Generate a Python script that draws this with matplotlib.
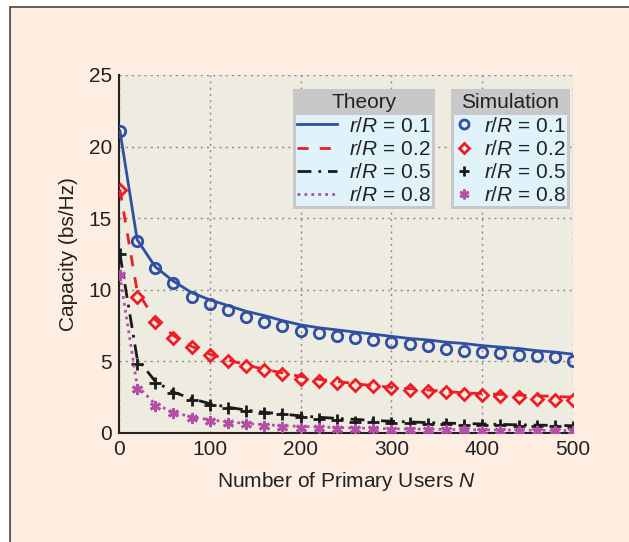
import matplotlib
matplotlib.use("Agg")
import matplotlib.pyplot as plt
from matplotlib.lines import Line2D
from matplotlib.patches import Rectangle

plt.rcParams['font.family'] = ['Liberation Sans', 'DejaVu Sans']
plt.rcParams['mathtext.fontset'] = 'custom'
plt.rcParams['mathtext.rm'] = 'Liberation Sans'
plt.rcParams['mathtext.it'] = 'Liberation Sans:italic'

# number of primary users
N = [1, 20, 40, 60, 80, 100, 120, 140, 160, 180, 200, 220, 240, 260,
     280, 300, 320, 340, 360, 380, 400, 420, 440, 460, 480, 500]

ratios = ["0.1", "0.2", "0.5", "0.8"]

theory_01 = [21.1, 13.5, 11.6, 10.6, 9.8, 9.3, 8.9, 8.5, 8.2, 7.85, 7.55, 7.35, 7.2,
             7.05, 6.9, 6.75, 6.6, 6.5, 6.35, 6.25, 6.1, 6.0, 5.9, 5.75, 5.65, 5.5]
theory_02 = [17.0, 9.9, 7.9, 6.8, 6.05, 5.5, 5.1, 4.75, 4.45, 4.2, 3.95, 3.75, 3.6,
             3.45, 3.3, 3.2, 3.1, 3.0, 2.9, 2.8, 2.75, 2.7, 2.65, 2.6, 2.55, 2.5]
theory_05 = [12.5, 5.2, 3.6, 2.85, 2.4, 2.05, 1.8, 1.6, 1.45, 1.32, 1.2, 1.1, 1.02,
             0.95, 0.88, 0.82, 0.77, 0.73, 0.69, 0.66, 0.63, 0.6, 0.57, 0.55, 0.53, 0.51]
theory_08 = [11.0, 3.3, 2.0, 1.45, 1.12, 0.92, 0.78, 0.67, 0.58, 0.51, 0.46, 0.42, 0.38,
             0.35, 0.32, 0.3, 0.28, 0.26, 0.25, 0.23, 0.22, 0.21, 0.2, 0.19, 0.18, 0.17]

sim_01 = [21.1, 13.4, 11.5, 10.5, 9.5, 9.0, 8.6, 8.1, 7.75, 7.5, 7.15, 7.0, 6.8,
          6.6, 6.5, 6.35, 6.2, 6.1, 5.9, 5.75, 5.65, 5.6, 5.45, 5.4, 5.3, 5.0]
sim_02 = [17.0, 9.5, 7.75, 6.6, 6.0, 5.45, 5.0, 4.7, 4.4, 4.15, 3.8, 3.65, 3.5,
          3.35, 3.3, 3.12, 3.0, 2.95, 2.85, 2.7, 2.65, 2.6, 2.5, 2.4, 2.3, 2.3]
sim_05 = [12.5, 4.85, 3.5, 2.8, 2.3, 1.95, 1.72, 1.55, 1.38, 1.3, 1.14, 1.0, 0.92,
          0.8, 0.77, 0.72, 0.67, 0.63, 0.6, 0.58, 0.56, 0.54, 0.52, 0.5, 0.48, 0.45]
sim_08 = [11.0, 3.1, 1.9, 1.37, 1.02, 0.86, 0.72, 0.6, 0.5, 0.44, 0.37, 0.33, 0.3,
          0.27, 0.25, 0.23, 0.21, 0.2, 0.19, 0.18, 0.17, 0.16, 0.15, 0.14, 0.13, 0.12]

theory = [theory_01, theory_02, theory_05, theory_08]
sim = [sim_01, sim_02, sim_05, sim_08]

colors = ["#2f4fa3", "#ee1c24", "#1a1a1a", "#b34fa6"]
styles = ["-", (0, (4, 4)), (0, (5, 2.5, 1, 2.5)), (0, (1, 1.5))]
markers = ["o", "D", "+", (6, 2, 0)]
msizes = [7.5, 6.5, 8, 8]

fig = plt.figure(figsize=(6.29, 5.42), dpi=100, facecolor="white")
fig.patches.append(Rectangle((10 / 629, -0.1), 1.2, 1.1 - 7 / 542,
                             transform=fig.transFigure, facecolor="#fdeee1",
                             edgecolor="#444444", linewidth=1.2, zorder=-1))
ax = fig.add_axes([119 / 629, 109 / 542, 454 / 629, 358 / 542])
ax.set_facecolor("#eeebe1")

for i in range(4):
    ax.plot(N, theory[i], color=colors[i], linestyle=styles[i], linewidth=2, zorder=3)
    ax.plot(N, sim[i], linestyle="none", marker=markers[i], markersize=msizes[i],
            markerfacecolor="none", markeredgecolor=colors[i], markeredgewidth=2, zorder=3)

ax.set_xlim(0, 500)
ax.set_ylim(0, 25)
ax.set_xticks([0, 100, 200, 300, 400, 500])
ax.set_yticks([0, 5, 10, 15, 20, 25])
ax.grid(True, linestyle=(0, (1.5, 3)), color="#8a8a8a", linewidth=1)
ax.tick_params(length=0, labelsize=15, colors="#222222", pad=5)
for s in ["top", "right"]:
    ax.spines[s].set_visible(False)
for s in ["left", "bottom"]:
    ax.spines[s].set_color("#222222")
    ax.spines[s].set_linewidth(1.5)
ax.set_xlabel("Number of Primary Users $N$", fontsize=15, color="#222222", labelpad=8)
ax.set_ylabel("Capacity (bs/Hz)", fontsize=15, color="#222222", labelpad=8)

labels = ["$r/R$ = " + r for r in ratios]
h_theory = [Line2D([], [], color=colors[i], linestyle=styles[i], linewidth=2) for i in range(4)]
h_sim = [Line2D([], [], linestyle="none", marker=markers[i], markersize=msizes[i] - 1,
                markerfacecolor="none", markeredgecolor=colors[i], markeredgewidth=2)
         for i in range(4)]

common = dict(loc="upper left", frameon=False, fontsize=15, labelspacing=0.2,
              borderpad=0.2, title_fontsize=15, borderaxespad=0)
leg1 = ax.legend(h_theory, labels, title="Theory", bbox_to_anchor=(0.383, 0.96),
                 handlelength=1.9, handletextpad=0.6, **common)
ax.add_artist(leg1)
leg2 = ax.legend(h_sim, labels, title="Simulation", bbox_to_anchor=(0.732, 0.96),
                 handlelength=0.8, handletextpad=0.55, **common)
for lg in (leg1, leg2):
    lg.set_zorder(6)
    for t in lg.get_texts():
        t.set_color("#222222")
    lg.get_title().set_color("#222222")

fig.canvas.draw()
inv = ax.transAxes.inverted()
for lg in (leg1, leg2):
    bb = lg.get_window_extent()
    tb = lg.get_title().get_window_extent()
    (x0, y0), (x1, y1) = inv.transform([[bb.x0, bb.y0], [bb.x1, bb.y1]])
    ty = inv.transform([[0, tb.y0 - 3]])[0][1]
    ax.add_patch(Rectangle((x0, y0), x1 - x0, y1 - y0, transform=ax.transAxes,
                           facecolor="#c8c8c8", edgecolor="none", zorder=5, clip_on=False))
    px = 3 / 454
    py = 3 / 358
    ax.add_patch(Rectangle((x0 + px, y0 + py), x1 - x0 - 2 * px, ty - y0 - py,
                           transform=ax.transAxes, facecolor="#e0f3fa",
                           edgecolor="none", zorder=5.5, clip_on=False))

fig.savefig("out.png", dpi=100, facecolor=fig.get_facecolor())
